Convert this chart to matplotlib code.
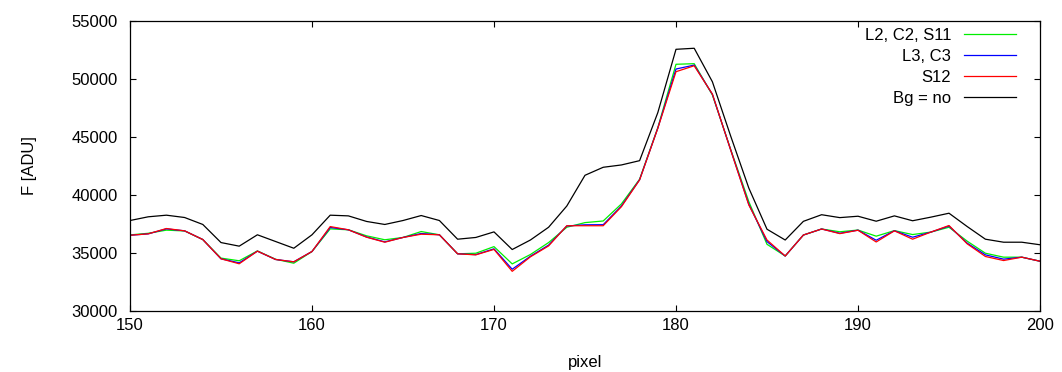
import matplotlib
matplotlib.use("Agg")
import matplotlib.pyplot as plt
import numpy as np

plt.rcParams['font.family'] = ['Liberation Sans', 'DejaVu Sans']

pixel = list(range(150, 201))

bg_no = [37800, 38120, 38260, 38060, 37460, 35900, 35590, 36570, 35990, 35410,
         36570, 38260, 38200, 37720, 37460, 37800, 38230, 37800, 36190, 36340,
         36820, 35300, 36120, 37220, 39050, 41700, 42390, 42590, 42960, 47100,
         52560, 52650, 49760, 45100, 40600, 37050, 36120, 37730, 38300, 38050,
         38170, 37740, 38200, 37780, 38090, 38430, 37280, 36190, 35930, 35930,
         35710]

l2_c2_s11 = [36560, 36700, 36970, 36900, 36160, 34560, 34330, 35180, 34460, 34120,
             35130, 37080, 37000, 36480, 36140, 36340, 36850, 36570, 34930, 34980,
             35550, 34060, 34870, 35900, 37220, 37620, 37760, 39230, 41360, 45800,
             51270, 51320, 48620, 43950, 39430, 35750, 34740, 36550, 37070, 36830,
             36980, 36450, 36930, 36590, 36800, 37220, 36020, 34980, 34640, 34640,
             34290]

l3_c3 = [36530, 36650, 37080, 36910, 36160, 34500, 34150, 35160, 34440, 34240,
         35130, 37200, 37000, 36380, 35960, 36340, 36680, 36570, 34930, 34860,
         35360, 33600, 34720, 35680, 37330, 37430, 37440, 39050, 41320, 45770,
         50860, 51200, 48680, 43910, 39200, 35980, 34740, 36550, 37070, 36700,
         36970, 36100, 36920, 36360, 36800, 37320, 35850, 34840, 34470, 34640,
         34290]

s12 = [36530, 36650, 37110, 36910, 36160, 34500, 34070, 35160, 34440, 34240,
       35130, 37280, 37000, 36360, 35930, 36340, 36620, 36570, 34930, 34840,
       35310, 33420, 34670, 35610, 37350, 37350, 37350, 38990, 41300, 45750,
       50630, 51140, 48700, 43900, 39140, 36120, 34740, 36550, 37070, 36670,
       36960, 35950, 36910, 36190, 36800, 37370, 35790, 34700, 34350, 34640,
       34290]

labels = ["L2, C2, S11", "L3, C3", "S12", "Bg = no"]
colors = ["#00ee00", "#0000ff", "#ff0000", "#000000"]

fig = plt.figure(figsize=(10.62, 3.72), dpi=100)
ax = fig.add_axes([130/1062, 1-311/372, (1040-130)/1062, (311-21)/372])

for ys, lab, col in zip([l2_c2_s11, l3_c3, s12, bg_no], labels, colors):
    ax.plot(pixel, ys, color=col, lw=0.9, label=lab)

ax.set_xlim(150, 200)
ax.set_ylim(30000, 55000)
ax.set_xticks(np.arange(150, 201, 10))
ax.set_yticks(np.arange(30000, 55001, 5000))
ax.tick_params(direction='in', top=True, right=True, length=4, width=0.8,
               labelsize=12)
ax.tick_params(axis='y', pad=9)
ax.tick_params(axis='x', pad=5)
for s in ax.spines.values():
    s.set_linewidth(0.9)

ax.set_xlabel("pixel", fontsize=12, labelpad=16)
ax.set_ylabel("F [ADU]", fontsize=12, labelpad=25)

leg = ax.legend(loc='upper right', bbox_to_anchor=(0.981, 1.0), frameon=False,
                markerfirst=False, fontsize=12, handlelength=3.1,
                handletextpad=0.8, labelspacing=0.37, borderaxespad=0.2,
                borderpad=0.2)
for t in leg.get_texts():
    t.set_ha('right')

fig.savefig("out.png", dpi=100)
